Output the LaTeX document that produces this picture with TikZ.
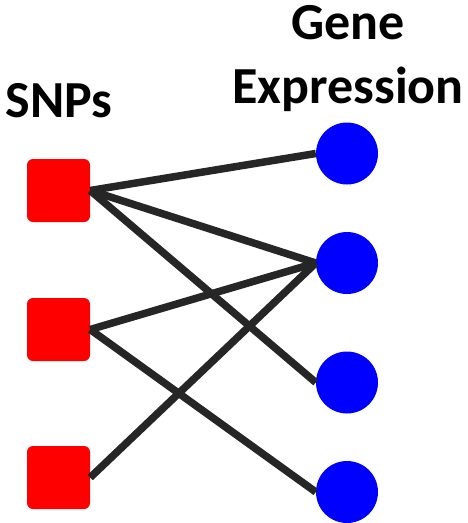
\documentclass[tikz,border=0pt]{standalone}
\usepackage{fontspec}
\setmainfont{Carlito}
\begin{document}
\begin{tikzpicture}[x=1pt,y=-1pt,
  snp/.style={fill=red,draw=none,rounded corners=6pt,minimum size=63pt,inner sep=0pt},
  gene/.style={circle,fill=blue,draw=none,minimum size=62pt,inner sep=0pt},
  link/.style={draw={rgb,255:red,38;green,38;blue,38},line width=7.5pt},
  heading/.style={font=\fontsize{52}{62}\selectfont\bfseries,inner sep=0pt,anchor=base}]
\useasboundingbox (0,0) rectangle (467,523);
% column headings
\node[heading] (hsnp) at (59,117) {SNPs};
\node[heading] (hgene) at (348,39) {Gene};
\node[heading] (hexpr) at (348,103) {Expression};
% SNP nodes
\node[snp] (s1) at (58.5,190.5) {};
\node[snp] (s2) at (58.5,329.5) {};
\node[snp] (s3) at (58.5,477.5) {};
% gene expression nodes
\node[gene] (g1) at (347,153.5) {};
\node[gene] (g2) at (347,263) {};
\node[gene] (g3) at (347,382.5) {};
\node[gene] (g4) at (347,492) {};
% associations
\draw[link] (s1.east) -- (g1.west);
\draw[link] (s1.east) -- (g2.west);
\draw[link] (s1.east) -- (g3.west);
\draw[link] (s2.east) -- (g2.west);
\draw[link] (s2.east) -- (g4.west);
\draw[link] (s3.east) -- (g2.west);
\end{tikzpicture}
\end{document}
